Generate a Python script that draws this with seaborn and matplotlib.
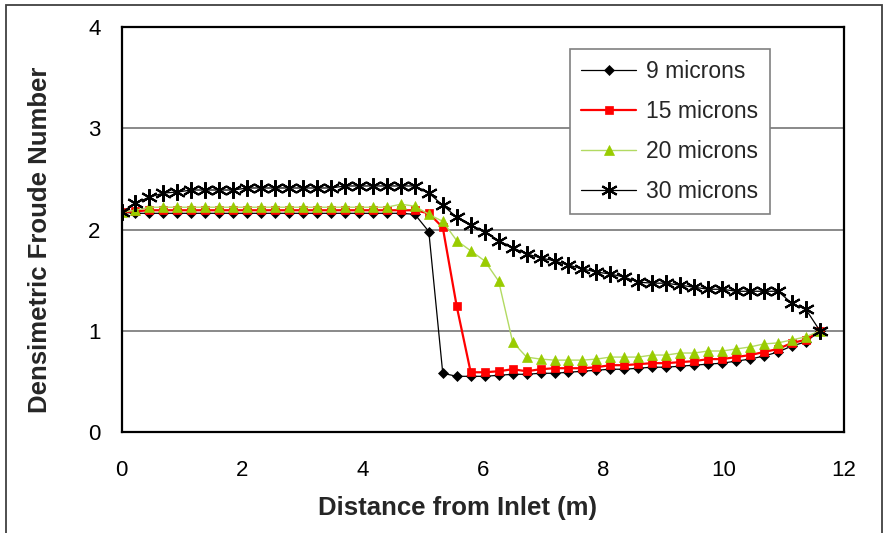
import matplotlib
matplotlib.use("Agg")
import matplotlib.pyplot as plt
from matplotlib.patches import Rectangle
import seaborn as sns

# Distance from inlet (m) at each sampling station
distance = [0.0, 0.232, 0.464, 0.696, 0.928, 1.16, 1.392, 1.624, 1.856, 2.088,
            2.32, 2.552, 2.784, 3.016, 3.248, 3.48, 3.712, 3.944, 4.176, 4.408,
            4.64, 4.872, 5.104, 5.336, 5.568, 5.8, 6.032, 6.264, 6.496, 6.728,
            6.96, 7.192, 7.424, 7.656, 7.888, 8.12, 8.352, 8.584, 8.816, 9.048,
            9.28, 9.512, 9.744, 9.976, 10.208, 10.44, 10.672, 10.904, 11.136, 11.368,
            11.6]

# Densimetric Froude number for each particle size
fr_9 = [2.17, 2.16, 2.16, 2.16, 2.16, 2.16, 2.16, 2.16, 2.16, 2.16,
        2.16, 2.16, 2.16, 2.16, 2.16, 2.16, 2.16, 2.16, 2.16, 2.16,
        2.16, 2.15, 1.98, 0.58, 0.55, 0.55, 0.55, 0.56, 0.57, 0.57,
        0.58, 0.58, 0.59, 0.60, 0.61, 0.62, 0.62, 0.63, 0.64, 0.64,
        0.65, 0.66, 0.67, 0.68, 0.70, 0.72, 0.75, 0.79, 0.85, 0.89,
        1.00]

fr_15 = [2.17, 2.18, 2.19, 2.19, 2.19, 2.19, 2.19, 2.19, 2.19, 2.19,
         2.19, 2.19, 2.19, 2.19, 2.19, 2.19, 2.19, 2.19, 2.19, 2.19,
         2.19, 2.19, 2.16, 2.02, 1.24, 0.59, 0.59, 0.60, 0.62, 0.60,
         0.62, 0.63, 0.63, 0.63, 0.64, 0.66, 0.66, 0.67, 0.68, 0.68,
         0.69, 0.70, 0.72, 0.72, 0.74, 0.76, 0.79, 0.82, 0.88, 0.91,
         1.00]

fr_20 = [2.17, 2.19, 2.22, 2.22, 2.22, 2.22, 2.22, 2.22, 2.22, 2.22,
         2.22, 2.22, 2.22, 2.22, 2.22, 2.22, 2.22, 2.22, 2.22, 2.22,
         2.25, 2.23, 2.15, 2.08, 1.89, 1.79, 1.69, 1.49, 0.89, 0.74,
         0.72, 0.71, 0.71, 0.71, 0.72, 0.74, 0.74, 0.74, 0.76, 0.76,
         0.78, 0.78, 0.80, 0.80, 0.82, 0.84, 0.87, 0.88, 0.91, 0.94,
         1.00]

fr_30 = [2.17, 2.26, 2.32, 2.36, 2.37, 2.39, 2.39, 2.39, 2.39, 2.41,
         2.41, 2.41, 2.41, 2.41, 2.41, 2.41, 2.43, 2.43, 2.43, 2.43,
         2.43, 2.43, 2.36, 2.24, 2.12, 2.04, 1.98, 1.89, 1.82, 1.76,
         1.72, 1.69, 1.65, 1.61, 1.58, 1.56, 1.53, 1.48, 1.47, 1.47,
         1.45, 1.43, 1.41, 1.41, 1.39, 1.39, 1.39, 1.39, 1.27, 1.21,
         1.00]

series_labels = ["9 microns", "15 microns", "20 microns", "30 microns"]
x_ticks = [0, 2, 4, 6, 8, 10, 12]
y_ticks = [0, 1, 2, 3, 4]

sns.set_style("white")
plt.rcParams["font.family"] = ["Liberation Sans", "DejaVu Sans"]

fig = plt.figure(figsize=(8.85, 5.33), dpi=100)
ax = fig.add_axes([121.5 / 885, 1 - 432 / 533, (844 - 121.5) / 885, (432 - 27) / 533])

styles = [
    dict(color="black", lw=0.9, marker="D", ms=5.2, mfc="black", mec="black", mew=0.5),
    dict(color="#FF0000", lw=1.6, marker="s", ms=6.3, mfc="#FF0000", mec="#FF0000", mew=0.5),
    dict(color="#B2DA62", lw=1.0, marker="^", ms=7.5, mfc="#99CC00", mec="#99CC00", mew=0.5),
    dict(color="black", lw=0.9, marker=(6, 2, 0), ms=12, mfc="black", mec="black", mew=1.5),
]

for vals, lab, st in zip([fr_9, fr_15, fr_20, fr_30], series_labels, styles):
    sns.lineplot(x=distance, y=vals, ax=ax, label=lab, **st)

ax.set_xlim(0, 12)
ax.set_ylim(0, 4)
ax.set_xticks(x_ticks)
ax.set_yticks(y_ticks)
ax.set_xticklabels([str(t) for t in x_ticks])
ax.set_yticklabels([str(t) for t in y_ticks])

ax.yaxis.grid(True, color="#808080", lw=1.3)
ax.xaxis.grid(False)
ax.set_axisbelow(True)

for sp in ax.spines.values():
    sp.set_visible(True)
    sp.set_color("black")
    sp.set_linewidth(1.6)

ax.tick_params(axis="both", which="major", direction="out", length=6, width=1.4,
               color="#808080", labelsize=16, labelcolor="black")
ax.tick_params(axis="x", pad=14)
ax.tick_params(axis="y", pad=9)

ax.set_xlabel("Distance from Inlet (m)", fontsize=18.5, fontweight="bold")
ax.set_ylabel("Densimetric Froude Number", fontsize=18.5, fontweight="bold")
ax.xaxis.label.set_va("center")
ax.yaxis.label.set_va("center")
ax.xaxis.set_label_coords((457.5 - 121.5) / 722.5, (432 - 508) / 405)
ax.yaxis.set_label_coords((40 - 121.5) / 722.5, (432 - 240) / 405)

leg = ax.legend(loc="upper left", bbox_to_anchor=(570 / 885, 1 - 49 / 533),
                bbox_transform=fig.transFigure, borderaxespad=0, fontsize=16.5,
                frameon=True, fancybox=False, shadow=False, framealpha=1,
                edgecolor="#808080", borderpad=0.5, labelspacing=0.73,
                handlelength=2.4, handletextpad=0.42)
leg.get_frame().set_linewidth(1.2)

# outer chart border
fig.patches.append(Rectangle((6 / 885, -0.1), (882 - 6) / 885, 1.1 - 5 / 533,
                             transform=fig.transFigure, fill=False,
                             edgecolor="#404040", lw=1.3, clip_on=False))

fig.savefig("out.png", dpi=100)
